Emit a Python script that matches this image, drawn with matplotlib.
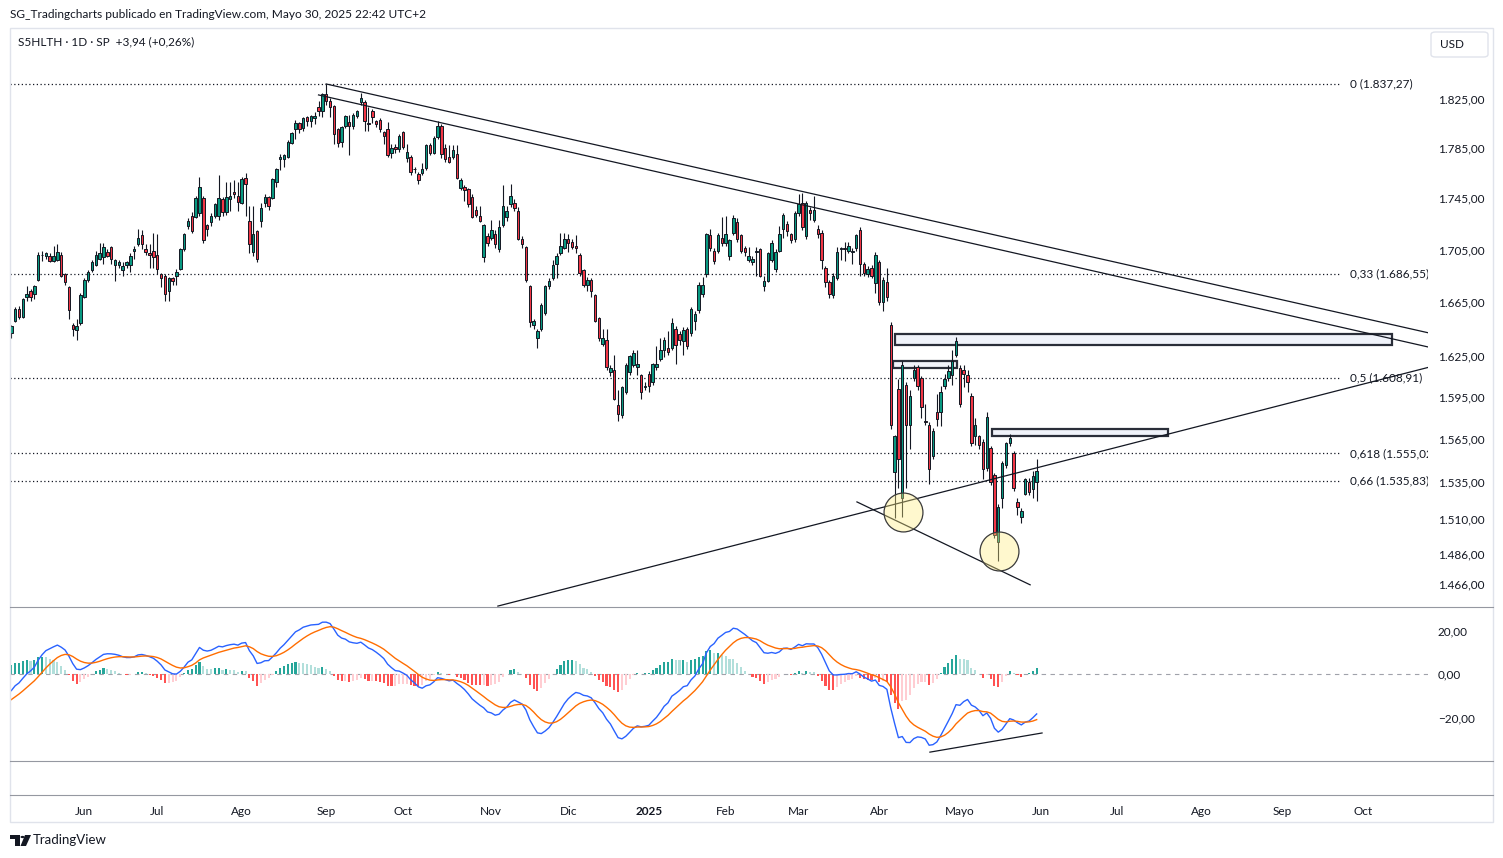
import numpy as np
import pandas as pd
import matplotlib
matplotlib.use('Agg')
import matplotlib.pyplot as plt
from matplotlib.patches import Rectangle, FancyBboxPatch, Polygon, Circle
from matplotlib.lines import Line2D
from matplotlib.ticker import FixedLocator, FixedFormatter, NullLocator

plt.rcParams['font.family'] = ['Lato', 'DejaVu Sans']

# daily candles S5HLTH, 6 May 2024 .. 30 May 2025
opens = [1642, 1651, 1660, 1654, 1669, 1673, 1671, 1682, 1701, 1700, 1700, 1696, 1697, 1701, 1686, 1676, 1648, 1644, 1649, 1669,
         1682, 1689, 1693, 1698, 1699, 1703, 1707, 1693, 1693, 1689, 1693, 1693, 1704, 1709, 1716, 1705, 1702, 1704, 1701, 1686,
         1685, 1673, 1683, 1685, 1690, 1705, 1723, 1731, 1730, 1733, 1745, 1724, 1726, 1731, 1731, 1744, 1734, 1744, 1750, 1747,
         1741, 1761, 1727, 1703, 1719, 1727, 1741, 1746, 1745, 1758, 1776, 1776, 1778, 1789, 1800, 1805, 1801, 1810, 1807, 1809,
         1818, 1815, 1829, 1823, 1819, 1800, 1790, 1803, 1806, 1803, 1811, 1822, 1822, 1805, 1815, 1807, 1808, 1798, 1800, 1781,
         1786, 1784, 1798, 1777, 1778, 1768, 1764, 1765, 1769, 1787, 1781, 1794, 1803, 1785, 1778, 1778, 1780, 1753, 1754, 1752,
         1746, 1736, 1731, 1699, 1715, 1714, 1717, 1705, 1724, 1730, 1740, 1741, 1735, 1713, 1707, 1677, 1648, 1638, 1645, 1657,
         1677, 1683, 1694, 1702, 1706, 1713, 1711, 1708, 1701, 1689, 1678, 1682, 1670, 1653, 1634, 1637, 1613, 1615, 1589, 1582,
         1599, 1613, 1618, 1617, 1611, 1602, 1612, 1606, 1617, 1623, 1629, 1631, 1631, 1645, 1641, 1636, 1645, 1642, 1651, 1659,
         1671, 1686, 1716, 1704, 1704, 1714, 1710, 1700, 1718, 1726, 1716, 1706, 1697, 1695, 1703, 1705, 1677, 1681, 1697, 1690,
         1704, 1721, 1725, 1717, 1713, 1733, 1741, 1715, 1736, 1728, 1721, 1718, 1691, 1680, 1670, 1683, 1705, 1706, 1704, 1703,
         1706, 1720, 1694, 1686, 1691, 1679, 1695, 1665, 1680, 1648, 1542, 1601, 1524, 1604, 1575, 1609, 1617, 1609, 1578, 1575,
         1553, 1584, 1584, 1603, 1609, 1611, 1626, 1616, 1615, 1611, 1596, 1567, 1567, 1563, 1545, 1559, 1540, 1494, 1524, 1547,
         1562, 1555, 1521, 1511, 1527, 1535, 1530, 1535]
highs = [1648, 1661, 1662, 1668, 1677, 1675, 1678, 1703, 1704, 1703, 1702, 1708, 1709, 1703, 1687, 1677, 1649, 1652, 1672, 1683,
         1689, 1697, 1704, 1710, 1710, 1705, 1708, 1698, 1697, 1695, 1696, 1702, 1708, 1721, 1720, 1709, 1709, 1718, 1717, 1687,
         1686, 1684, 1684, 1690, 1706, 1718, 1729, 1734, 1747, 1762, 1747, 1725, 1733, 1741, 1763, 1746, 1758, 1758, 1759, 1758,
         1762, 1765, 1739, 1739, 1720, 1741, 1748, 1747, 1761, 1769, 1780, 1780, 1791, 1798, 1808, 1806, 1810, 1811, 1812, 1814,
         1823, 1830, 1837.27, 1826, 1820, 1801, 1803, 1812, 1812, 1813, 1816, 1830, 1824, 1818, 1817, 1808, 1809, 1799, 1806, 1788,
         1788, 1796, 1799, 1788, 1779, 1770, 1766, 1773, 1788, 1789, 1795, 1807, 1804, 1788, 1787, 1787, 1787, 1761, 1755, 1753,
         1748, 1739, 1739, 1725, 1718, 1728, 1720, 1728, 1755, 1739, 1756, 1744, 1738, 1715, 1708, 1678, 1652, 1645, 1664, 1678,
         1683, 1697, 1702, 1718, 1718, 1717, 1713, 1716, 1702, 1690, 1684, 1683, 1671, 1654, 1645, 1645, 1618, 1626, 1600, 1603,
         1620, 1626, 1629, 1629, 1612, 1606, 1614, 1620, 1632, 1638, 1639, 1643, 1653, 1647, 1643, 1646, 1646, 1661, 1658, 1680,
         1684, 1718, 1721, 1706, 1718, 1730, 1731, 1713, 1732, 1729, 1717, 1708, 1707, 1700, 1707, 1706, 1685, 1703, 1712, 1705,
         1723, 1733, 1727, 1718, 1735, 1748, 1749, 1743, 1738, 1747, 1724, 1720, 1692, 1682, 1687, 1707, 1707, 1711, 1711, 1706,
         1717, 1722, 1695, 1692, 1693, 1703, 1697, 1684, 1691, 1650, 1568, 1608, 1621, 1606, 1600, 1618, 1618, 1610, 1590, 1577,
         1573, 1597, 1603, 1612, 1618, 1629, 1639, 1618, 1618, 1615, 1598, 1580, 1568, 1565, 1584, 1560, 1541, 1520, 1550, 1563,
         1569, 1557, 1524, 1517, 1538, 1538, 1543, 1551]
lows = [1638, 1650, 1652, 1653, 1666, 1666, 1667, 1681, 1696, 1698, 1695, 1695, 1696, 1684, 1678, 1652, 1640, 1637, 1648, 1668,
        1680, 1688, 1692, 1697, 1694, 1699, 1694, 1681, 1691, 1685, 1691, 1688, 1698, 1708, 1705, 1701, 1691, 1691, 1686, 1676,
        1666, 1666, 1678, 1678, 1689, 1704, 1721, 1718, 1729, 1731, 1710, 1715, 1723, 1729, 1728, 1731, 1732, 1735, 1745, 1735,
        1740, 1731, 1702, 1700, 1695, 1722, 1738, 1736, 1744, 1754, 1767, 1770, 1777, 1788, 1792, 1797, 1799, 1803, 1802, 1804,
        1811, 1810, 1820, 1810, 1788, 1786, 1786, 1801, 1779, 1800, 1809, 1820, 1799, 1799, 1805, 1802, 1798, 1788, 1778, 1777,
        1781, 1782, 1784, 1774, 1763, 1765, 1756, 1763, 1767, 1779, 1780, 1792, 1777, 1774, 1773, 1776, 1760, 1751, 1743, 1738,
        1729, 1730, 1726, 1695, 1708, 1712, 1706, 1703, 1722, 1727, 1738, 1735, 1712, 1706, 1680, 1646, 1645, 1631, 1643, 1655,
        1675, 1682, 1683, 1701, 1705, 1703, 1705, 1702, 1685, 1676, 1673, 1669, 1650, 1636, 1632, 1615, 1610, 1593, 1578, 1580,
        1597, 1611, 1617, 1611, 1594, 1600, 1599, 1604, 1615, 1621, 1624, 1626, 1629, 1619, 1633, 1626, 1630, 1640, 1644, 1657,
        1669, 1684, 1704, 1694, 1702, 1708, 1708, 1697, 1716, 1711, 1702, 1700, 1695, 1693, 1685, 1684, 1673, 1680, 1695, 1688,
        1703, 1714, 1715, 1710, 1711, 1731, 1720, 1713, 1728, 1726, 1714, 1690, 1676, 1668, 1668, 1682, 1697, 1696, 1702, 1694,
        1704, 1685, 1685, 1684, 1683, 1672, 1663, 1658, 1666, 1572, 1510, 1531, 1511, 1531, 1558, 1607, 1600, 1580, 1575, 1534,
        1551, 1574, 1574, 1601, 1607, 1604, 1624, 1588, 1602, 1599, 1560, 1561, 1558, 1537, 1543, 1533, 1497, 1481, 1517, 1545,
        1560, 1529, 1512, 1507, 1526, 1526, 1524, 1522]
closes = [1647, 1660, 1654, 1667, 1671, 1669, 1677, 1701, 1701, 1702, 1696, 1700, 1703, 1685, 1680, 1659, 1645, 1647, 1670, 1682,
          1688, 1695, 1701, 1702, 1707, 1700, 1698, 1697, 1695, 1692, 1695, 1700, 1705, 1714, 1709, 1703, 1701, 1699, 1690, 1683,
          1671, 1683, 1681, 1688, 1705, 1717, 1727, 1719, 1745, 1754, 1712, 1721, 1731, 1740, 1745, 1734, 1746, 1747, 1748, 1742,
          1760, 1756, 1709, 1717, 1698, 1737, 1746, 1739, 1760, 1768, 1778, 1779, 1790, 1797, 1805, 1800, 1809, 1807, 1811, 1811,
          1815, 1829, 1823, 1818, 1796, 1789, 1802, 1811, 1803, 1812, 1815, 1826, 1807, 1804, 1810, 1804, 1800, 1795, 1779, 1785,
          1784, 1795, 1786, 1782, 1766, 1768, 1759, 1768, 1787, 1781, 1793, 1803, 1780, 1776, 1774, 1783, 1761, 1759, 1751, 1740,
          1730, 1732, 1727, 1724, 1710, 1720, 1709, 1722, 1739, 1735, 1747, 1737, 1713, 1709, 1682, 1650, 1651, 1643, 1663, 1677,
          1681, 1693, 1700, 1708, 1713, 1710, 1707, 1706, 1687, 1678, 1682, 1673, 1651, 1638, 1638, 1617, 1616, 1594, 1583, 1602,
          1618, 1625, 1627, 1619, 1599, 1603, 1603, 1619, 1619, 1629, 1637, 1628, 1649, 1633, 1637, 1644, 1632, 1660, 1656, 1678,
          1678, 1717, 1706, 1696, 1716, 1710, 1717, 1712, 1729, 1713, 1704, 1703, 1700, 1698, 1704, 1685, 1681, 1702, 1710, 1703,
          1717, 1732, 1719, 1712, 1733, 1740, 1722, 1741, 1733, 1736, 1717, 1697, 1680, 1671, 1685, 1703, 1706, 1705, 1708, 1704,
          1716, 1694, 1687, 1690, 1685, 1701, 1665, 1682, 1669, 1575, 1567, 1551, 1618, 1575, 1596, 1615, 1603, 1588, 1577, 1544,
          1571, 1579, 1599, 1608, 1614, 1621, 1636, 1590, 1612, 1606, 1562, 1575, 1561, 1544, 1581, 1535, 1499, 1518, 1548, 1562,
          1566, 1531, 1518, 1515, 1537, 1528, 1539, 1543]

holidays = ['2024-05-27', '2024-06-19', '2024-07-04', '2024-09-02', '2024-11-28', '2024-12-25',
            '2025-01-01', '2025-01-09', '2025-01-20', '2025-02-17', '2025-04-18', '2025-05-26',
            '2025-06-19', '2025-07-04', '2025-09-01']
month_labels = ['Jun', 'Jul', 'Ago', 'Sep', 'Oct', 'Nov', 'Dic', '2025', 'Feb', 'Mar', 'Abr', 'Mayo',
                'Jun', 'Jul', 'Ago', 'Sep', 'Oct']

price_ticks = [1466, 1486, 1510, 1535, 1565, 1595, 1625, 1665, 1705, 1745, 1785, 1825]
macd_ticks = [20, 0, -20]
macd_tick_labels = ['20,00', '0,00', '\u221220,00']

fib_levels = ['0', '0,33', '0,5', '0,618', '0,66']
fib_prices = [1837.27, 1686.55, 1608.91, 1555.02, 1535.83]

# drawings: (bar index, price)
down_line_1 = [(82.0, 1837.27), (369, 1642.0)]
down_line_2 = [(80.0, 1828.2), (369, 1631.5)]
up_line = [(126.7, 1451.4), (369, 1616.6)]
support_line = [(220.2, 1521.3), (265.3, 1465.4)]
zones = [(230.1, 359.6, 1633.1, 1641.0), (229.7, 246.2, 1615.8, 1620.9), (255.3, 301.2, 1567.6, 1572.2)]
circles = [(232.3, 1514.7), (257.3, 1488.0)]
macd_line = [(239.2, -35.9), (268.4, -27.1)]


def eu(v):
    return f"{v:,.2f}".replace(',', 'X').replace('.', ',').replace('X', '.')


W, H = 1503, 858
fig = plt.figure(figsize=(W / 100, H / 100), dpi=100)
fig.patch.set_facecolor('white')


def fx(px):
    return px / W


def fy(py):
    return 1 - py / H


ax = fig.add_axes([fx(10), fy(607), (1428 - 10) / W, (607 - 28) / H])
axm = fig.add_axes([fx(10), fy(795), (1428 - 10) / W, (795 - 607) / H])

days = pd.bdate_range('2024-05-06', '2025-10-31')
days = days[~days.isin(pd.to_datetime(holidays))]
n = len(closes)
x = np.arange(n)
starts = pd.date_range('2024-06-01', '2025-10-01', freq='MS')
tick_pos = [int(np.searchsorted(days, s)) for s in starts]

o, h, l, c = (np.array(v, dtype=float) for v in (opens, highs, lows, closes))
up = c >= o
cols = np.where(up, '#089981', '#F23645')

XL = (-0.34, 368.9)

# ---------- price pane
ax.set_yscale('log')
ax.set_xlim(*XL)
ax.set_ylim(1450.8, 1884.3)
ax.vlines(x, l, h, color='#131722', lw=0.8, zorder=3)
ax.bar(x, c - o, bottom=o, width=0.64, color=cols, edgecolor='#131722', linewidth=0.7, zorder=4)

for lab, p in zip(fib_levels, fib_prices):
    ax.plot([XL[0], 346], [p, p], ls=(0, (1, 2)), color='#131722', lw=0.9, zorder=2)
    ax.text(348.6, p, f"{lab} ({eu(p)})", va='center', ha='left', fontsize=8.5,
            color='#131722', clip_on=True)

for ln in (down_line_1, down_line_2, up_line, support_line):
    ax.plot([ln[0][0], ln[1][0]], [ln[0][1], ln[1][1]], color='#131722', lw=0.9, zorder=5)

for x0, x1, p0, p1 in zones:
    ax.add_patch(Rectangle((x0, p0), x1 - x0, p1 - p0, facecolor='#F0F3FA', edgecolor='#2A2E39',
                           lw=1.6, zorder=2.5))

for cx, cp in circles:
    ax.plot([cx], [cp], marker='o', ms=28, mfc=(1.0, 0.93, 0.5, 0.38), mec='#3a3a3a', mew=0.9, zorder=6)

ax.yaxis.tick_right()
ax.yaxis.set_major_locator(FixedLocator(price_ticks))
ax.yaxis.set_major_formatter(FixedFormatter([eu(t) for t in price_ticks]))
ax.yaxis.set_minor_locator(NullLocator())
ax.tick_params(axis='y', length=0, pad=7, labelsize=8.5, labelcolor='#131722')
ax.set_xticks([])
for s in ax.spines.values():
    s.set_visible(False)
ax.patch.set_alpha(0)

# ---------- MACD pane
ema12, ema26, sig = 1638.0, 1647.0, -12.8
macd, signal = [], []
for cl in c:
    ema12 += (cl - ema12) * 2 / 13
    ema26 += (cl - ema26) * 2 / 27
    m = ema12 - ema26
    sig += (m - sig) * 0.2
    macd.append(m)
    signal.append(sig)
macd = np.array(macd)
signal = np.array(signal)
hist = macd - signal
prev = np.r_[hist[0], hist[:-1]]
hcol = np.where(hist >= 0, np.where(hist >= prev, '#26A69A', '#B2DFDB'),
                np.where(hist < prev, '#FF5252', '#FFCDD2'))

axm.set_xlim(*XL)
axm.set_ylim(-55.6, 30.8)
axm.axhline(0, color='#787B86', ls=(0, (4, 4)), lw=0.8, alpha=0.7, zorder=1)
axm.bar(x, hist, width=0.55, color=hcol, zorder=2)
axm.plot(x, macd, color='#2962FF', lw=1, zorder=3)
axm.plot(x, signal, color='#FF6D00', lw=1, zorder=3)
axm.plot([macd_line[0][0], macd_line[1][0]], [macd_line[0][1], macd_line[1][1]], color='#131722', lw=0.9, zorder=4)

axm.yaxis.tick_right()
axm.set_yticks(macd_ticks)
axm.set_yticklabels(macd_tick_labels)
axm.tick_params(axis='y', length=0, pad=7, labelsize=8.5, labelcolor='#131722')
axm.set_xticks(tick_pos)
axm.set_xticklabels(month_labels)
axm.tick_params(axis='x', length=0, pad=8, labelsize=8.5, labelcolor='#131722')
for t in axm.get_xticklabels():
    if t.get_text() == '2025':
        t.set_fontweight('bold')
for s in axm.spines.values():
    s.set_visible(False)
axm.patch.set_alpha(0)

# ---------- frame, header, logo
frame_c = '#E0E3EB'
sep_c = '#9598A1'
fig.add_artist(Rectangle((fx(10), fy(822)), (1493 - 10) / W, (822 - 28) / H, transform=fig.transFigure,
                         fill=False, ec=frame_c, lw=1))
for yy in (607, 761, 795):
    fig.add_artist(Line2D([fx(10), fx(1493)], [fy(yy), fy(yy)], transform=fig.transFigure, color=sep_c, lw=0.8))

fig.text(fx(10), fy(14), 'SG_Tradingcharts publicado en TradingView.com, Mayo 30, 2025 22:42 UTC+2',
         fontsize=8.6, color='#131722', va='center', ha='left')
fig.text(fx(18), fy(42), 'S5HLTH \u00b7 1D \u00b7 SP  +3,94 (+0,26%)', fontsize=8.5, color='#131722',
         va='center', ha='left')
fig.add_artist(FancyBboxPatch((fx(1431), fy(57)), 57 / W, 25 / H, boxstyle='round,pad=0,rounding_size=0.003',
                              transform=fig.transFigure, fc='white', ec=frame_c, lw=1))
fig.text(fx(1440), fy(44), 'USD', fontsize=8.5, color='#131722', va='center', ha='left')

fig.add_artist(Polygon([[fx(10), fy(835)], [fx(20), fy(835)], [fx(20), fy(846)], [fx(15), fy(846)],
                        [fx(15), fy(839)], [fx(10), fy(839)]], closed=True, transform=fig.transFigure,
                       fc='#131722', ec='none'))
fig.add_artist(Circle((fx(22.5), fy(837)), 2 / W, transform=fig.transFigure, fc='#131722', ec='none'))
fig.add_artist(Polygon([[fx(25), fy(835)], [fx(31), fy(835)], [fx(26), fy(846)], [fx(20.5), fy(846)]],
                       closed=True, transform=fig.transFigure, fc='#131722', ec='none'))
fig.text(fx(33), fy(840), 'TradingView', fontsize=9.5, color='#131722', va='center', ha='left')

fig.savefig('out.png', dpi=100, facecolor='white')
